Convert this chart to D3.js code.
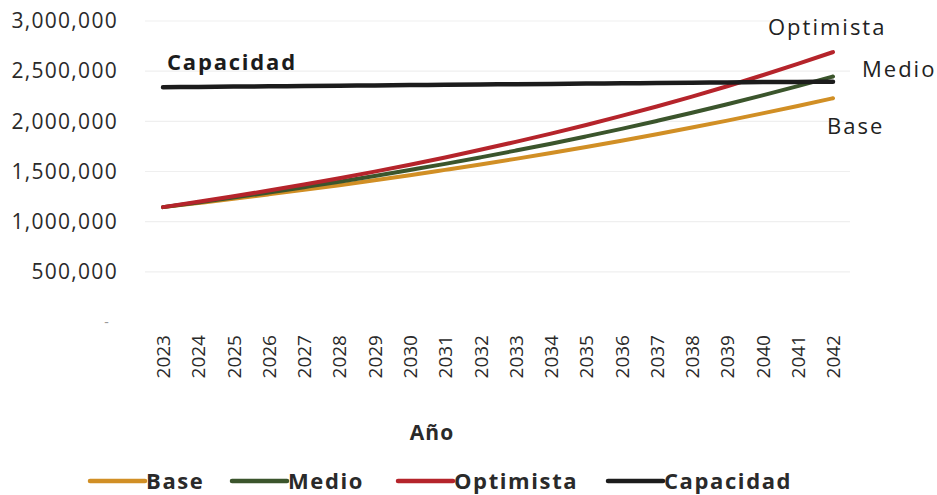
<!DOCTYPE html>
<html>
<head>
<meta charset="utf-8">
<script src="https://cdn.jsdelivr.net/npm/d3@7/dist/d3.min.js"></script>
<style>
  body { margin: 0; background: #fff; }
  text { font-family: "Open Sans", sans-serif; }
</style>
</head>
<body>
<svg width="937" height="495" id="mainsvg"></svg>
<script>
// data
const years = d3.range(2023, 2043).map(String);
const base = [1145000, 1186000, 1228000, 1272000, 1317000, 1364000, 1413000, 1463000, 1516000, 1570000,
              1626000, 1684000, 1744000, 1806000, 1871000, 1938000, 2007000, 2079000, 2153000, 2230000];
const medio = [1145000, 1192000, 1240000, 1291000, 1344000, 1398000, 1455000, 1515000, 1576000, 1641000,
               1708000, 1777000, 1850000, 1925000, 2004000, 2085000, 2170000, 2259000, 2351000, 2447000];
const optimista = [1145000, 1198000, 1253000, 1310000, 1370000, 1433000, 1499000, 1568000, 1640000, 1716000,
                   1795000, 1877000, 1964000, 2054000, 2148000, 2247000, 2350000, 2459000, 2572000, 2690000];
const capacidad = [2340000, 2343000, 2346000, 2349000, 2352000, 2355000, 2358000, 2361000, 2364000, 2367000,
                   2370000, 2373000, 2376000, 2379000, 2382000, 2385000, 2388000, 2391000, 2393000, 2395000];
const yTicks = [0, 500000, 1000000, 1500000, 2000000, 2500000, 3000000];

const series = [
  {name: "Base", values: base, color: "#d18f25"},
  {name: "Medio", values: medio, color: "#3b552c"},
  {name: "Optimista", values: optimista, color: "#b5242b"},
  {name: "Capacidad", values: capacidad, color: "#1c1c1c"}
];

const svg = d3.select("#mainsvg");

const xScale = d3.scalePoint().domain(years).range([163, 833]);
const yScale = d3.scaleLinear().domain([0, 3000000]).range([322, 21]);

// gridlines
svg.append("g").selectAll("line").data(yTicks.slice(1)).join("line")
  .attr("x1", 145).attr("x2", 850)
  .attr("y1", d => yScale(d)).attr("y2", d => yScale(d))
  .attr("stroke", "#efefef").attr("stroke-width", 1.2);

// y axis
const yAxis = d3.axisLeft(yScale).tickValues(yTicks)
  .tickFormat(d => d === 0 ? "-" : d3.format(",")(d))
  .tickSize(0).tickPadding(0);
const yg = svg.append("g").attr("transform", "translate(118,0)").call(yAxis);
yg.select(".domain").remove();
yg.selectAll("text")
  .attr("font-family", "Open Sans, sans-serif")
  .attr("font-size", 21).attr("letter-spacing", 1.3)
  .attr("fill", "#2a2a2a")
  .filter(d => d === 0).attr("fill", "#999").attr("font-size", 14).attr("x", -8);

// x axis
const xAxis = d3.axisBottom(xScale).tickSize(0).tickPadding(0);
const xg = svg.append("g").attr("transform", "translate(0,333)").call(xAxis);
xg.select(".domain").remove();
xg.selectAll("text")
  .attr("font-family", "Open Sans, sans-serif")
  .attr("font-size", 19).attr("fill", "#2a2a2a")
  .attr("transform", "rotate(-90)")
  .attr("text-anchor", "end")
  .attr("x", -2).attr("y", 0).attr("dy", "0.35em");

svg.append("text").attr("x", 432).attr("y", 440)
  .attr("text-anchor", "middle").attr("font-weight", "bold")
  .attr("font-size", 21).attr("letter-spacing", 1).attr("fill", "#2a2a2a").text("Año");

// lines
const line = d3.line()
  .x((d, i) => xScale(years[i]))
  .y(d => yScale(d))
  .curve(d3.curveMonotoneX);

svg.append("g").selectAll("path").data(series).join("path")
  .attr("d", d => line(d.values))
  .attr("fill", "none")
  .attr("stroke", d => d.color)
  .attr("stroke-width", d => d.name === "Capacidad" ? 4.5 : 4)
  .attr("stroke-linecap", "round");

// inline labels
svg.append("text").attr("x", 167).attr("y", 70).attr("font-weight", "bold")
  .attr("font-size", 22).attr("letter-spacing", 1.8).attr("fill", "#1c1c1c").text("Capacidad");
const inl = [
  {t: "Optimista", x: 768, y: 35},
  {t: "Medio", x: 862, y: 77},
  {t: "Base", x: 827, y: 134}
];
svg.append("g").selectAll("text").data(inl).join("text")
  .attr("x", d => d.x).attr("y", d => d.y)
  .attr("font-size", 22).attr("letter-spacing", 2).attr("fill", "#222")
  .text(d => d.t);

// legend
const legendX = [90, 232, 398, 608];
const lg = svg.append("g").selectAll("g").data(series).join("g")
  .attr("transform", (d, i) => `translate(${legendX[i]},481)`);
lg.append("line").attr("x1", 0).attr("x2", 55).attr("y1", 0).attr("y2", 0)
  .attr("stroke", d => d.color).attr("stroke-width", 4.5).attr("stroke-linecap", "round");
lg.append("text").attr("x", 56).attr("y", 0).attr("dy", "0.35em")
  .attr("font-weight", "bold").attr("font-size", 22).attr("letter-spacing", 1.6).attr("fill", "#2a2a2a")
  .text(d => d.name);
</script>
</body>
</html>
